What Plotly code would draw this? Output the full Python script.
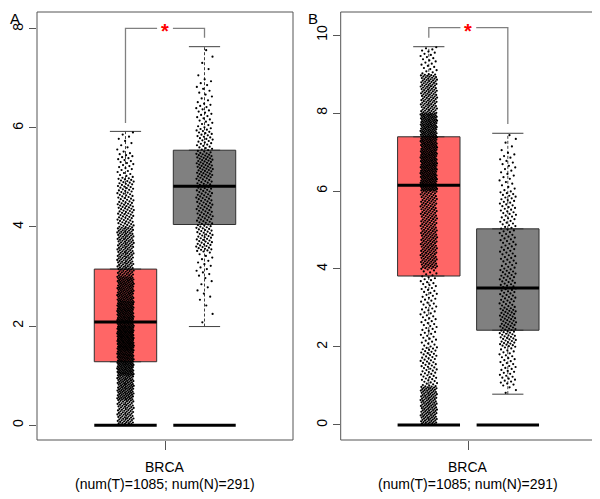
import numpy as np
import plotly.graph_objects as go

# ---------------- data ----------------
groups = ["Tumor", "Normal"]
category_label = "BRCA"
sample_label = "(num(T)=1085; num(N)=291)"

# Panel A box statistics  [q1, median, q3, lower whisker, upper whisker]
A_tumor_stats = [1.28, 2.08, 3.15, 0.0, 5.93]
A_normal_stats = [4.05, 4.82, 5.55, 1.99, 7.64]
# Panel B box statistics
B_tumor_stats = [3.82, 6.15, 7.39, 0.0, 9.70]
B_normal_stats = [2.43, 3.51, 5.03, 0.79, 7.48]

# Binned point counts: (bin low, bin high, count)
A_tumor_bins = [(0.0, 0.5, 80), (0.5, 1.0, 110), (1.0, 1.5, 150), (1.5, 2.0, 180),
                (2.0, 2.5, 150), (2.5, 3.0, 120), (3.0, 3.5, 80), (3.5, 4.0, 80),
                (4.0, 4.5, 55), (4.5, 5.0, 45), (5.0, 5.5, 25), (5.5, 5.93, 10)]
A_normal_bins = [(1.99, 2.5, 3), (2.5, 3.0, 8), (3.0, 3.5, 15), (3.5, 4.0, 45),
                 (4.0, 4.5, 45), (4.5, 5.0, 45), (5.0, 5.5, 55), (5.5, 6.0, 35),
                 (6.0, 6.5, 22), (6.5, 7.0, 13), (7.0, 7.5, 4), (7.5, 7.64, 1)]
B_tumor_bins = [(0.0, 1.0, 140), (1.0, 2.0, 60), (2.0, 3.0, 40), (3.0, 4.0, 40),
                (4.0, 5.0, 120), (5.0, 6.0, 110), (6.0, 7.0, 220), (7.0, 8.0, 210),
                (8.0, 9.0, 120), (9.0, 9.70, 25)]
B_normal_bins = [(0.79, 1.0, 3), (1.0, 2.0, 40), (2.0, 3.0, 75), (3.0, 4.0, 55),
                 (4.0, 5.0, 44), (5.0, 6.0, 45), (6.0, 7.0, 24), (7.0, 7.48, 5)]

significance = "*"

# ---------------- styling ----------------
colors = ["#FF6666", "#808080"]
positions = [1, 2]
box_w = 0.79
jit = 0.105

# page offset from the html body margin
OFF = 8
W, H = 600 - OFF, 499 - OFF


def px(x):
    return (x - OFF) / W


def py(y):
    return 1 - (y - OFF) / H


fig = go.Figure()


def spread(bins):
    vals = []
    for lo, hi, n in bins:
        for i in range(n):
            vals.append(lo + (i + 0.5) / n * (hi - lo))
    return np.array(vals)


def add_panel(xa, ya, stats_list, bins_list):
    for pos, col, st, bins in zip(positions, colors, stats_list, bins_list):
        q1, med, q3, lo, hi = st
        fig.add_trace(go.Box(x=[pos], q1=[q1], median=[med], q3=[q3],
                             lowerfence=[q1], upperfence=[q3], width=box_w,
                             fillcolor=col, line=dict(color="#303030", width=1),
                             xaxis=xa, yaxis=ya, hoverinfo="skip", showlegend=False))
        for a, b in [(q3, hi), (lo, q1)]:
            fig.add_trace(go.Scatter(x=[pos, pos], y=[a, b], mode="lines",
                                     line=dict(color="#404040", width=1, dash="3px,2px"),
                                     xaxis=xa, yaxis=ya, showlegend=False, hoverinfo="skip"))
        for v in [hi, lo]:
            fig.add_trace(go.Scatter(x=[pos - box_w / 4, pos + box_w / 4], y=[v, v], mode="lines",
                                     line=dict(color="#404040", width=1),
                                     xaxis=xa, yaxis=ya, showlegend=False, hoverinfo="skip"))
        fig.add_trace(go.Scatter(x=[pos - box_w / 2, pos + box_w / 2], y=[med, med], mode="lines",
                                 line=dict(color="black", width=3),
                                 xaxis=xa, yaxis=ya, showlegend=False, hoverinfo="skip"))
        fig.add_trace(go.Scatter(x=[pos - box_w / 2, pos + box_w / 2], y=[0, 0], mode="lines",
                                 line=dict(color="black", width=3),
                                 xaxis=xa, yaxis=ya, showlegend=False, hoverinfo="skip"))
        yv = spread(bins)
        k = np.arange(len(yv))
        offs = ((k * 0.6180339887 + 0.37 * (pos - 1)) % 1.0) * 2 - 1
        fig.add_trace(go.Scatter(x=pos + offs * jit, y=yv, mode="markers",
                                 marker=dict(color="black", size=2.2),
                                 xaxis=xa, yaxis=ya, showlegend=False, hoverinfo="skip"))


add_panel("x", "y", [A_tumor_stats, A_normal_stats], [A_tumor_bins, A_normal_bins])
add_panel("x2", "y2", [B_tumor_stats, B_normal_stats], [B_tumor_bins, B_normal_bins])


def add_bracket(xa, ya, left_bottom, right_bottom, top, gap):
    fig.add_trace(go.Scatter(x=[1, 1, 1.5 - gap], y=[left_bottom, top, top], mode="lines",
                             line=dict(color="#808080", width=1.3),
                             xaxis=xa, yaxis=ya, showlegend=False, hoverinfo="skip"))
    fig.add_trace(go.Scatter(x=[1.5 + gap, 2, 2], y=[top, top, right_bottom], mode="lines",
                             line=dict(color="#808080", width=1.3),
                             xaxis=xa, yaxis=ya, showlegend=False, hoverinfo="skip"))
    fig.add_annotation(x=1.5, y=top, xref=xa, yref=ya, text="<b>" + significance + "</b>",
                       showarrow=False, font=dict(color="#FF0000", size=20, family="Liberation Sans"),
                       xanchor="center", yshift=-3)


add_bracket("x", "y", 6.1, 7.82, 8.01, 0.1)
add_bracket("x2", "y2", 9.93, 7.72, 10.19, 0.1)

tickfont = dict(family="Liberation Sans", size=14, color="black")
common = dict(showline=False, showgrid=False, zeroline=False, ticks="outside",
              tickcolor="#555555", tickfont=tickfont, automargin=False)

yb = [py(440), py(12)]
fig.update_layout(
    width=W, height=H, margin=dict(l=0, r=0, t=0, b=0, autoexpand=False),
    paper_bgcolor="white", plot_bgcolor="white",
    xaxis=dict(domain=[px(37), px(293)], range=[-0.12, 3.12], tickvals=[1.5], ticktext=[""],
               ticklen=9, anchor="y", **common),
    yaxis=dict(domain=yb, range=[-0.30, 8.34], tickvals=[0, 2, 4, 6, 8], tickangle=-90,
               ticklen=7, anchor="x", **common),
    xaxis2=dict(domain=[px(340.7), px(596)], range=[-0.115, 3.116], tickvals=[1.5], ticktext=[""],
                ticklen=9, anchor="y2", **common),
    yaxis2=dict(domain=yb, range=[-0.385, 10.59], tickvals=[0, 2, 4, 6, 8, 10], tickangle=-90,
                ticklen=7, anchor="x2", **common),
)

# panel frames
for xa, ya in [("x", "y"), ("x2", "y2")]:
    fig.add_shape(type="rect", xref=f"{xa} domain", yref=f"{ya} domain", x0=0, x1=1, y0=0, y1=1,
                  line=dict(color="#555555", width=1), fillcolor="rgba(0,0,0,0)", layer="above")

for xc in [165, 468.3]:
    fig.add_annotation(x=px(xc), y=py(467), xref="paper", yref="paper", text=category_label,
                       xanchor="center", yanchor="middle", showarrow=False, font=tickfont)
    fig.add_annotation(x=px(xc), y=py(484), xref="paper", yref="paper", text=sample_label,
                       xanchor="center", yanchor="middle", showarrow=False, font=tickfont)

for letter, lx, anch in [("A", 0, "left"), ("B", px(306), "left")]:
    fig.add_annotation(x=lx, y=1, xref="paper", yref="paper", text=letter, yanchor="top",
                       xanchor=anch, showarrow=False,
                       font=dict(family="Liberation Sans", size=15, color="black"))

fig.write_html("out.html")
